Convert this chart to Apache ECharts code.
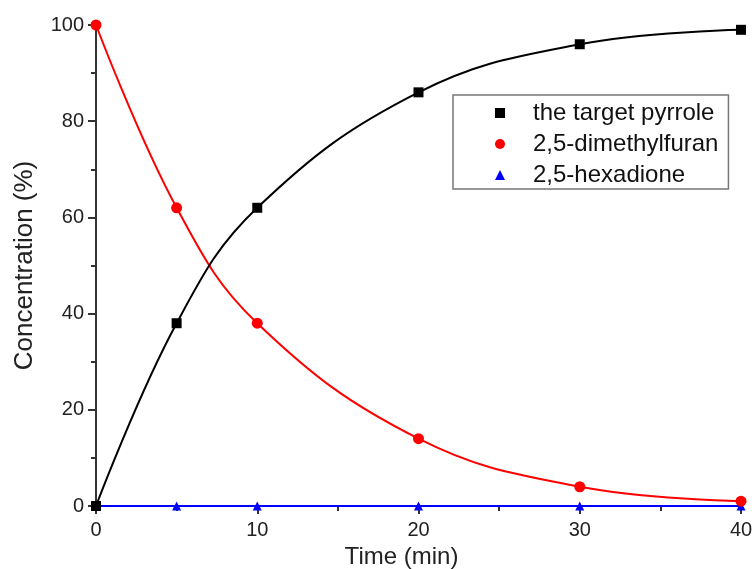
<!DOCTYPE html>
<html><head><meta charset="utf-8">
<script src="https://cdn.jsdelivr.net/npm/echarts@6/dist/echarts.min.js"></script>
<style>html,body{margin:0;padding:0;background:#fff}#c{width:755px;height:569px}</style>
</head><body><div id="c"></div>
<script>
const times = [0, 5, 10, 20, 30, 40];
const pyrrole = [0, 38, 62, 86, 96, 99];
const dmf = [100, 62, 38, 14, 4, 1];
const hexadione = [0, 0, 0, 0, 0, 0];
const names = ['the target pyrrole', '2,5-dimethylfuran', '2,5-hexadione'];
const colors = ['#000000', '#ff0000', '#0000ff'];
const symbols = ['rect', 'circle', 'triangle'];
const values = [pyrrole, dmf, hexadione];

const chart = echarts.init(document.getElementById('c'));
const font = 'Liberation Sans, Arial, sans-serif';
chart.setOption({
  animation: false,
  grid: {left: 96, right: 14, top: 25, bottom: 63, containLabel: false, outerBoundsMode: 'none'},
  legend: {
    orient: 'vertical', left: 453, top: 95,
    data: names.map((n, i) => ({name: n, icon: symbols[i]})),
    itemWidth: 10, itemHeight: 10, itemGap: 7,
    padding: [6, 10, 2, 42],
    borderColor: '#777', borderWidth: 1.5,
    textStyle: {fontSize: 24, fontFamily: font, color: '#111', padding: [0, 0, 0, 23]}
  },
  xAxis: [{
    type: 'value', min: 0, max: 40, interval: 10,
    name: 'Time (min)', nameLocation: 'middle', nameGap: 39,
    nameTextStyle: {fontSize: 24, fontFamily: font, color: '#222', padding: [0, 34, 0, 0]},
    axisLine: {onZero: false, lineStyle: {color: '#333', width: 2}},
    axisTick: {inside: false, length: 8, lineStyle: {color: '#333', width: 2}},
    minorTick: {show: true, splitNumber: 2, length: 5, lineStyle: {color: '#333', width: 2}},
    axisLabel: {fontSize: 20, fontFamily: font, color: '#222', margin: 14},
    splitLine: {show: false}
  }, {
    type: 'value', position: 'top', min: 0, max: 40,
    axisLine: {show: true, lineStyle: {color: '#555', width: 2}},
    axisTick: {show: false}, axisLabel: {show: false}, splitLine: {show: false}
  }],
  yAxis: [{
    type: 'value', min: 0, max: 100, interval: 20,
    name: 'Concentration (%)', nameLocation: 'middle', nameGap: 58,
    nameTextStyle: {fontSize: 26, fontFamily: font, color: '#222'},
    axisLine: {show: true, onZero: false, lineStyle: {color: '#333', width: 2}},
    axisTick: {show: true, inside: false, length: 8, lineStyle: {color: '#333', width: 2}},
    minorTick: {show: true, splitNumber: 2, length: 5, lineStyle: {color: '#333', width: 2}},
    axisLabel: {fontSize: 20, fontFamily: font, color: '#222', margin: 12},
    splitLine: {show: false}
  }, {
    type: 'value', position: 'right', min: 0, max: 100,
    axisLine: {show: true, lineStyle: {color: '#333', width: 2}},
    axisTick: {show: false}, axisLabel: {show: false}, splitLine: {show: false}
  }],
  series: names.map((n, i) => ({
    name: n, type: 'line', smooth: 0.4,
    data: times.map((t, j) => [t, values[i][j]]),
    symbol: symbols[i], symbolSize: i === 1 ? 11 : (i === 2 ? 9 : 10),
    showAllSymbol: true,
    clip: false,
    itemStyle: {color: colors[i]},
    lineStyle: {color: colors[i], width: 2},
    z: 5 - i
  }))
});
</script></body></html>
